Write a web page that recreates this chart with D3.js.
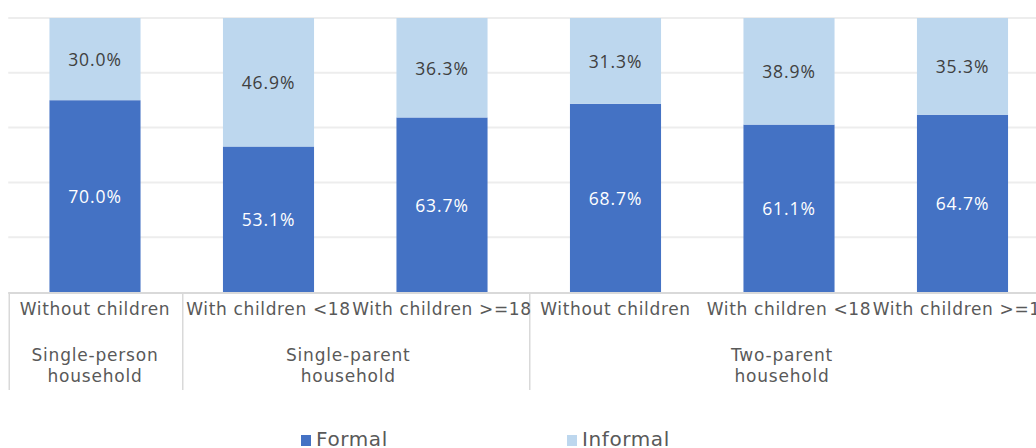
<!DOCTYPE html>
<html><head><meta charset="utf-8">
<script src="https://cdn.jsdelivr.net/npm/d3@7"></script>
<style>html,body{margin:0;padding:0;background:#fff;overflow:hidden}</style>
</head><body>
<svg id="c" width="1036" height="448"></svg>
<script>
const subcategories = ["Without children","With children <18","With children >=18","Without children","With children <18","With children >=18"];
const groups = [
  {lines:["Single-person","household"], start:0, end:1},
  {lines:["Single-parent","household"], start:1, end:3},
  {lines:["Two-parent","household"], start:3, end:6}
];
const formal = [70.0, 53.1, 63.7, 68.7, 61.1, 64.7];
const informal = [30.0, 46.9, 36.3, 31.3, 38.9, 35.3];
const gridTicks = [0.2, 0.4, 0.6, 0.8, 1.0];
const seriesNames = ["Formal","Informal"];
const colors = ["#4472C4","#BDD7EE"];

const svg = d3.select("#c");
const plotLeft = 8.25, plotRight = 1049.25, plotTop = 18, plotBase = 292;
const x = d3.scaleBand().domain(d3.range(subcategories.length)).range([plotLeft,plotRight]).paddingInner(0.475).paddingOuter(0.2375);
const y = d3.scaleLinear().domain([0,1]).range([plotBase, plotTop]);
const step = x.step();
const xEdge = i => plotLeft + i*step;

// gridlines
svg.append("g").selectAll("line").data(gridTicks).join("line")
  .attr("x1", plotLeft).attr("x2", 1036)
  .attr("y1", d=>y(d)).attr("y2", d=>y(d))
  .attr("stroke","#ededed").attr("stroke-width",2);

const stackData = subcategories.map((s,i)=>({i, Formal: formal[i]/100, Informal: informal[i]/100}));
const stack = d3.stack().keys(seriesNames)(stackData);
const vals = [formal, informal];

const gBars = svg.append("g");
stack.forEach((layer, li)=>{
  gBars.append("g").selectAll("rect").data(layer).join("rect")
    .attr("x", d=>x(d.data.i)).attr("width", x.bandwidth())
    .attr("y", d=>y(d[1])).attr("height", d=>y(d[0])-y(d[1]))
    .attr("fill", colors[li]);
  gBars.append("g").selectAll("text").data(layer).join("text")
    .attr("x", d=>x(d.data.i)+x.bandwidth()/2)
    .attr("y", d=>(y(d[0])+y(d[1]))/2)
    .attr("text-anchor","middle").attr("dominant-baseline","central")
    .attr("font-family","'Open Sans', sans-serif").attr("font-size",17.5)
    .attr("letter-spacing",0.9)
    .attr("fill", li===0 ? "#ffffff" : "#404040")
    .text(d=>vals[li][d.data.i].toFixed(1)+"%");
});

// axis baseline
svg.append("line").attr("x1",plotLeft).attr("x2",1036).attr("y1",plotBase+1).attr("y2",plotBase+1)
  .attr("stroke","#d9d9d9").attr("stroke-width",2);

// group separators
const seps = [0,1,3];
svg.append("g").selectAll("line").data(seps).join("line")
  .attr("x1", d=>xEdge(d)+1).attr("x2", d=>xEdge(d)+1)
  .attr("y1", plotBase).attr("y2", 390)
  .attr("stroke","#d9d9d9").attr("stroke-width",1.5);

// subcategory labels
svg.append("g").selectAll("text").data(subcategories).join("text")
  .attr("x",(d,i)=>x(i)+x.bandwidth()/2).attr("y",309)
  .attr("text-anchor","middle").attr("dominant-baseline","central")
  .attr("font-family","'DejaVu Sans', sans-serif").attr("font-size",17)
  .attr("letter-spacing",0.65)
  .attr("fill","#595959").text(d=>d);

// group labels
const gl = svg.append("g").selectAll("text").data(groups).join("text")
  .attr("text-anchor","middle")
  .attr("font-family","'DejaVu Sans', sans-serif").attr("font-size",17)
  .attr("letter-spacing",0.8)
  .attr("fill","#595959");
gl.each(function(g){
  const cx = (xEdge(g.start)+xEdge(g.end))/2 - (g.end-g.start>1?7:0);
  d3.select(this).selectAll("tspan").data(g.lines).join("tspan")
    .attr("x",cx).attr("y",(d,k)=>361+k*21).text(d=>d);
});

// legend
const leg = svg.append("g");
const legX = [301, 567];
seriesNames.forEach((n,i)=>{
  leg.append("rect").attr("x",legX[i]).attr("y",435).attr("width",10).attr("height",11).attr("fill",colors[i]);
  leg.append("text").attr("x",legX[i]+15).attr("y",446)
    .attr("font-family","'DejaVu Sans', sans-serif").attr("font-size",20)
    .attr("letter-spacing",0.6)
    .attr("fill","#595959").text(n);
});
</script>
</body></html>
